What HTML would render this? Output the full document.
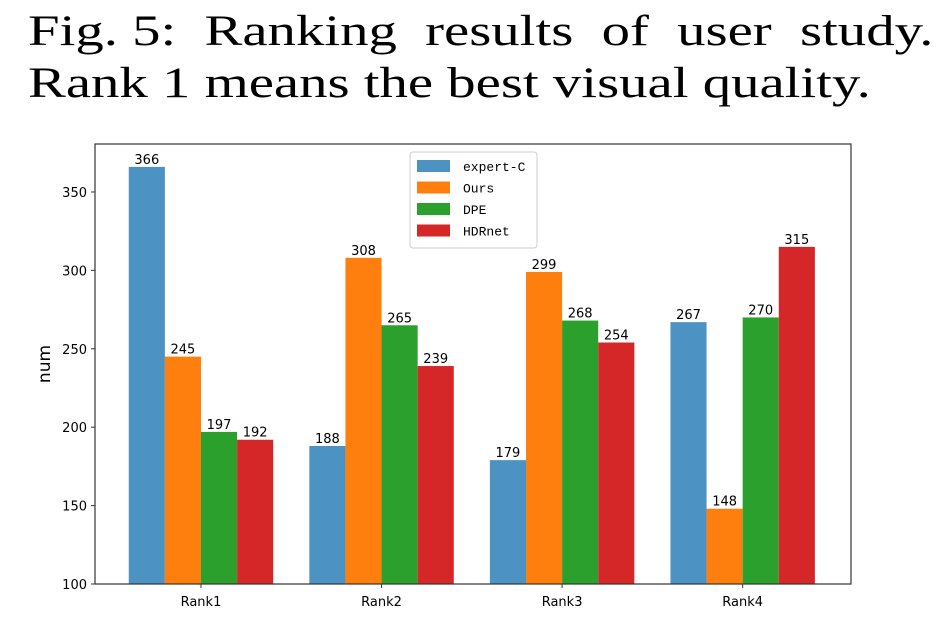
<!DOCTYPE html>
<html><head><meta charset="utf-8"><style>
body{margin:0;background:#fff;width:946px;height:621px;overflow:hidden}
.cap{position:absolute;left:28px;font-family:"Liberation Serif","DejaVu Serif",serif;font-size:43px;color:#000;white-space:nowrap;transform-origin:0 0;transform:scaleX(1.32)}
</style></head><body>
<div class="cap" style="top:7px;width:686px;display:flex;justify-content:space-between"><span>Fig. 5:</span><span>Ranking</span><span>results</span><span>of</span><span>user</span><span>study.</span></div>
<div class="cap" style="top:59px">Rank 1 means the best visual quality.</div>
<svg id="chart" width="946" height="621" style="position:absolute;left:0;top:0" font-family="'DejaVu Sans','Liberation Sans',sans-serif"></svg>
<script>
const categories=["Rank1","Rank2","Rank3","Rank4"];
const seriesNames=["expert-C","Ours","DPE","HDRnet"];
const expertC=[366,188,179,267];
const ours=[245,308,299,148];
const dpe=[197,265,268,270];
const hdrnet=[192,239,254,315];
const yTicks=[100,150,200,250,300,350];
const colors=["#4c92c3","#ff7f0e","#2ca02c","#d62728"];
const series=[expertC,ours,dpe,hdrnet];
const L=95,R=851,T=144,B=584;
const ymin=100,ymax=380.6,xmin=-0.587,xmax=3.6;
const y=v=>B-(v-ymin)/(ymax-ymin)*(B-T);
const x=v=>L+(v-xmin)/(xmax-xmin)*(R-L);
const svg=document.getElementById('chart');
const NS="http://www.w3.org/2000/svg";
function mk(t,a,p){const e=document.createElementNS(NS,t);for(const k in a)e.setAttribute(k,a[k]);(p||svg).appendChild(e);return e;}
const bw=0.2;
series.forEach((s,si)=>{s.forEach((v,ci)=>{
 const c=ci+(si-1.5)*bw;
 const r=mk('rect',{x:x(c-bw/2),y:y(v),width:x(c+bw/2)-x(c-bw/2),height:B-y(v),fill:colors[si]});
 
 
 const t=mk('text',{x:x(c),y:y(v)-3,'text-anchor':'middle','font-size':13,fill:'#000'});
 t.textContent=v;
 
 
});});
const ax=mk('rect',{x:L,y:T,width:R-L,height:B-T,fill:'none',stroke:'#333','stroke-width':1.2});


yTicks.forEach(v=>{
 mk('line',{x1:L-4,x2:L,y1:y(v),y2:y(v),stroke:'#333'});
 const t=mk('text',{x:L-8,y:y(v)+5,'text-anchor':'end','font-size':13});
 t.textContent=v;
 
 
});
categories.forEach((c,i)=>{
 mk('line',{x1:x(i),x2:x(i),y1:B,y2:B+4,stroke:'#333'});
 const t=mk('text',{x:x(i),y:B+22,'text-anchor':'middle','font-size':13});
 t.textContent=c;
 
 
});
const yl=mk('text',{x:50,y:364,'text-anchor':'middle','font-size':17,transform:'rotate(-90 50 364)'});
yl.textContent='num';


const lg=mk('g',{});


mk('rect',{x:410,y:152,width:127,height:96,rx:3,fill:'#fff',stroke:'#ccc'},lg);
seriesNames.forEach((n,i)=>{
 const yy=160+i*21.5;
 mk('rect',{x:417,y:yy,width:33,height:12,fill:colors[i]},lg);
 const t=mk('text',{x:463,y:yy+11,'font-size':13,'font-family':"'Liberation Mono','DejaVu Sans Mono',monospace"},lg);
 t.textContent=n;
 
 
});
</script>
</body></html>
